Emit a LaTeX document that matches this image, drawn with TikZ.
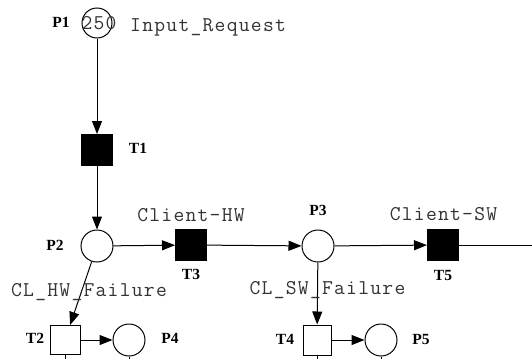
\documentclass[tikz,border=0pt]{standalone}
\usepackage{fontspec}
\setmainfont{Liberation Serif}
\newfontfamily\monof{Latin Modern Mono}[LetterSpace=6.0]
\usetikzlibrary{arrows.meta}
\tikzset{
  place/.style={circle,draw,line width=1pt,minimum size=32pt,inner sep=0pt},
  trans/.style={rectangle,draw,line width=1pt,minimum width=31pt,minimum height=31pt,inner sep=0pt},
  ftrans/.style={trans,fill=black},
  otrans/.style={trans,fill=white,minimum width=30pt,minimum height=29pt},
  arc/.style={line width=1pt,-{Triangle[length=13pt,width=10pt]}},
  plainarc/.style={line width=1pt},
  lbl/.style={font=\fontsize{15.5}{16}\selectfont\bfseries,inner sep=0pt},
  mono/.style={font=\fontsize{21}{22}\monof,text=black!80,inner sep=0pt}
}
\begin{document}
\begin{tikzpicture}[x=1pt,y=-1pt]
\useasboundingbox[fill=white] (0,0) rectangle (532,359);
% places
\node[place,minimum size=30pt] (P1) at (97,23) {};
\node[mono] (tok) at (99,23) {250};
\node[place] (P2) at (97,246) {};
\node[place] (P3) at (318,246) {};
\node[place] (P4) at (129,340) {};
\node[place] (P5) at (381,340) {};
% transitions
\node[ftrans] (T1) at (97,150) {};
\node[ftrans] (T3) at (191,245) {};
\node[ftrans] (T5) at (443,245) {};
\node[otrans] (T2) at (65,340) {};
\node[otrans,minimum width=28pt,minimum height=30pt] (T4) at (317,340) {};
% free ends
\coordinate (E5) at (532,245);
\coordinate (ET2) at (65,359);
\coordinate (EP4) at (129,359);
\coordinate (ET4) at (317,359);
\coordinate (EP5) at (381,359);
% arcs
\draw[arc] (P1) -- (T1);
\draw[arc] (T1) -- (P2);
\draw[arc] (P2) -- (T3);
\draw[arc] (T3) -- (P3);
\draw[arc] (P3) -- (T5);
\draw[plainarc] (T5) -- (E5);
\draw[arc] (P2) -- (T2);
\draw[arc] (P3) -- (T4);
\draw[arc] (T2) -- (P4);
\draw[arc] (T4) -- (P5);
\draw[plainarc] (T2.south) -- (ET2);
\draw[plainarc] (P4.south) -- (EP4);
\draw[plainarc] (T4.south) -- (ET4);
\draw[plainarc] (P5.south) -- (EP5);
% labels
\node[lbl] (lP1) at (61,22) {P1};
\node[mono,anchor=west] (lIn) at (130,27) {Input\_Request};
\node[lbl] (lT1) at (138,148) {T1};
\node[mono] (lCHW) at (191,215) {Client-HW};
\node[lbl] (lP2) at (55,245) {P2};
\node[lbl] (lT3) at (191,274) {T3};
\node[lbl] (lP3) at (318,210) {P3};
\node[mono] (lCSW) at (443.5,214) {Client-SW};
\node[lbl] (lT5) at (443,275) {T5};
\node[mono] (lCLHW) at (89,292) {CL\_HW\_Failure};
\node[mono] (lCLSW) at (327.5,290) {CL\_SW\_Failure};
\node[lbl] (lT2) at (35,338) {T2};
\node[lbl] (lP4) at (170,338) {P4};
\node[lbl] (lT4) at (285,339) {T4};
\node[lbl] (lP5) at (421,339) {P5};
\end{tikzpicture}
\end{document}
